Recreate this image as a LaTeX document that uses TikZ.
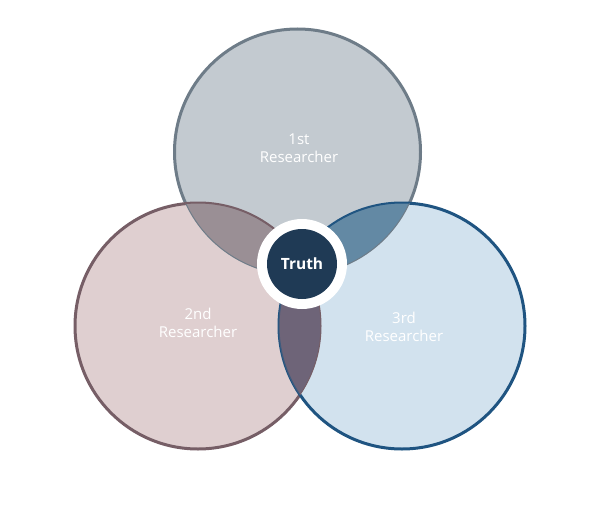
\documentclass[tikz,border=0pt]{standalone}
\usepackage{fontspec}
\setmainfont{Open Sans}
\definecolor{topfill}{HTML}{C3CAD0}
\definecolor{topline}{HTML}{6E7C88}
\definecolor{leftfill}{HTML}{DFCFD0}
\definecolor{leftline}{HTML}{765E66}
\definecolor{rightfill}{HTML}{D2E2EE}
\definecolor{rightline}{HTML}{1F5481}
\definecolor{tlfill}{HTML}{9A8F95}
\definecolor{trfill}{HTML}{6389A4}
\definecolor{lrfill}{HTML}{6E6478}
\definecolor{truthfill}{HTML}{1F3A55}
\begin{document}
\begin{tikzpicture}[x=1pt,y=-1pt,
  ring/.style={circle, minimum size=246pt, inner sep=0pt, line width=3pt},
  lbl/.style={text=white, font=\fontsize{15}{18}\selectfont, align=center},
  thin/.style={line width=1pt}]
\useasboundingbox (0,0) rectangle (600,527);
\def\Ra{123}
\coordinate (pt) at (297.5,152);
\coordinate (pl) at (198,326);
\coordinate (pr) at (402,326);
% main circles
\node[ring, fill=topfill, draw=topline] (c1) at (pt) {};
\node[ring, fill=leftfill, draw=leftline] (c2) at (pl) {};
\node[ring, fill=rightfill, draw=rightline] (c3) at (pr) {};
% overlaps
\begin{scope}
  \clip (pt) circle (\Ra);
  \fill[tlfill] (pl) circle (\Ra);
\end{scope}
\begin{scope}
  \clip (pt) circle (\Ra);
  \fill[trfill] (pr) circle (\Ra);
\end{scope}
\begin{scope}
  \clip (pl) circle (\Ra);
  \fill[lrfill] (pr) circle (\Ra);
\end{scope}
% inner arcs
\begin{scope}
  \clip (pl) circle (\Ra);
  \draw[thin, topline] (pt) circle (\Ra);
\end{scope}
\begin{scope}
  \clip (pr) circle (\Ra);
  \draw[thin, topline] (pt) circle (\Ra);
\end{scope}
\begin{scope}
  \clip (pt) circle (\Ra);
  \draw[thin, leftline] (pl) circle (\Ra);
  \draw[thin, rightline] (pr) circle (\Ra);
\end{scope}
\begin{scope}
  \clip (pr) circle (\Ra);
  \draw[thin, leftline] (pl) circle (\Ra);
\end{scope}
\begin{scope}
  \clip (pl) circle (\Ra);
  \draw[thin, rightline!60!lrfill] (pr) circle (\Ra);
\end{scope}
% truth
\node[circle, fill=white, minimum size=90pt, inner sep=0pt] (tw) at (302,264) {};
\node[circle, fill=truthfill, minimum size=70pt, inner sep=0pt, text=white,
  font=\fontsize{15.5}{18}\selectfont\bfseries] (truth) at (tw) {Truth};
% labels
\node[lbl] (l1) at (299,148) {1st\\Researcher};
\node[lbl] (l2) at (198,322.5) {2nd\\Researcher};
\node[lbl] (l3) at (404,327) {3rd\\Researcher};
\end{tikzpicture}
\end{document}
